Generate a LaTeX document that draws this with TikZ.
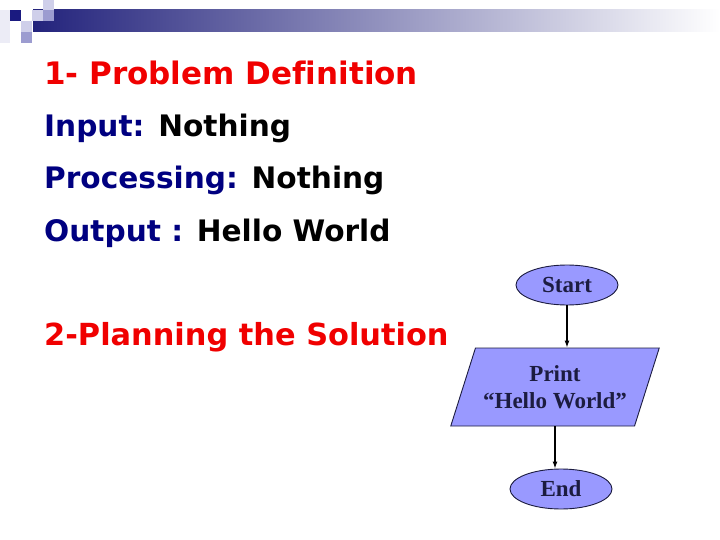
\documentclass[tikz,border=0pt]{standalone}
\usepackage{fontspec}
\setmainfont{DejaVu Sans}
\newfontfamily\headfont[Ligatures=NoCommon]{DejaVu Sans}
\newfontfamily\chartfont{Liberation Serif}
\usetikzlibrary{arrows.meta,shapes.geometric}
\definecolor{ink}{HTML}{000000}
\definecolor{navy}{HTML}{000080}
\definecolor{headred}{HTML}{F00000}
\definecolor{band}{HTML}{23237C}
\definecolor{sqdark}{HTML}{1A1A80}
\definecolor{sqmid}{HTML}{9C9CD0}
\definecolor{sqlight}{HTML}{CFCFEA}
\definecolor{sqfaint}{HTML}{ECECF6}
\definecolor{flowfill}{HTML}{9999FF}
\definecolor{flowtext}{HTML}{1C1C40}

\begin{document}
\begin{tikzpicture}[
  x=1pt, y=-1pt,
  heading/.style={
    anchor=base west,
    inner sep=0pt,
    text=headred,
    font=\headfont\fontsize{31}{36}\selectfont\bfseries
  },
  entry/.style={
    anchor=base west,
    inner sep=0pt,
    text=ink,
    font=\fontsize{29.6}{34}\selectfont\bfseries
  },
  terminal/.style={
    ellipse,
    draw=flowtext,
    line width=0.9pt,
    fill=flowfill,
    inner sep=0pt,
    minimum width=102pt,
    minimum height=40pt,
    text=flowtext,
    font=\fontsize{23}{27.5}\selectfont\chartfont\bfseries
  },
  io/.style={
    trapezium,
    trapezium left angle=63,
    trapezium right angle=117,
    trapezium stretches=true,
    draw=flowtext,
    line width=0.9pt,
    fill=flowfill,
    inner sep=0pt,
    minimum width=209pt,
    minimum height=78pt,
    align=center,
    text=flowtext,
    font=\fontsize{23}{27.5}\selectfont\chartfont\bfseries
  },
  arrow/.style={-{Latex[length=7pt,width=5pt]}, line width=1.2pt, draw=ink}
]
\useasboundingbox (0,0) rectangle (720,540);

% header band
\shade[left color=band, right color=white] (33,10) rectangle (720,32);
\fill[sqfaint] (0,10) rectangle (10,43);
\fill[sqdark] (10,10) rectangle (21,21);
\fill[sqlight] (21,21) rectangle (32,32);
\fill[sqmid] (21,32) rectangle (32,43);
\fill[sqlight] (32,10) rectangle (43,21);
\fill[sqmid] (43,10) rectangle (54,21);
\fill[sqlight] (43,0) rectangle (54,10);

% problem definition
\node[heading] (define) at (44,85) {1- Problem Definition};
\node[entry] (input) at (44,137) {\textcolor{navy}{Input:} Nothing};
\node[entry] (process) at (44,189) {\textcolor{navy}{Processing:} Nothing};
\node[entry] (output) at (44,241) {\textcolor{navy}{Output :} Hello World};

% planning
\node[heading, font=\headfont\fontsize{30.4}{36}\selectfont\bfseries] (plan) at (44,345) {2-Planning the Solution};

% flowchart
\node[terminal] (start) at (567,285) {Start};
\node[io] (print) at (555,387) {Print\\“Hello World”};
\node[terminal] (end) at (561,489) {End};

\draw[arrow] (start) -- (start |- print.north);
\draw[arrow] (print.south) -- (print.south |- end.north);

\end{tikzpicture}
\end{document}
